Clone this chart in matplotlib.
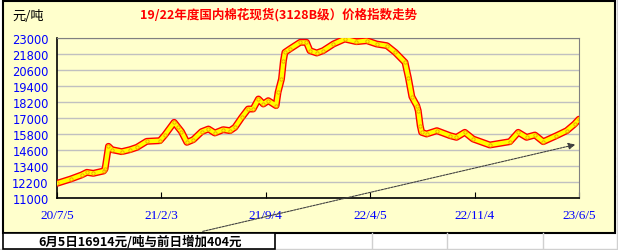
import matplotlib
matplotlib.use('Agg')
import matplotlib.pyplot as plt
from matplotlib.patches import Rectangle, FancyArrowPatch
from matplotlib.lines import Line2D
import pandas as pd

# 3128B cotton spot index, yuan/ton
dates = ['2020-07-05', '2020-08-02', '2020-08-24', '2020-09-04', '2020-09-17', '2020-10-08',
         '2020-10-11', '2020-10-18', '2020-10-25', '2020-11-14', '2020-12-01', '2020-12-15',
         '2021-01-04', '2021-01-31', '2021-02-10', '2021-03-01', '2021-03-09', '2021-03-16',
         '2021-03-27', '2021-04-09', '2021-04-26', '2021-05-10', '2021-05-23', '2021-06-09',
         '2021-06-23', '2021-07-03', '2021-07-17', '2021-07-30', '2021-08-09', '2021-08-20',
         '2021-08-30', '2021-09-09', '2021-09-25', '2021-09-29', '2021-10-06', '2021-10-10',
         '2021-10-13', '2021-10-23', '2021-11-13', '2021-11-26', '2021-12-03', '2021-12-17',
         '2021-12-30', '2022-01-20', '2022-02-12', '2022-03-08', '2022-03-29', '2022-04-18',
         '2022-05-09', '2022-05-26', '2022-06-15', '2022-06-22', '2022-06-29', '2022-07-09',
         '2022-07-12', '2022-07-16', '2022-07-19', '2022-07-29', '2022-08-19', '2022-09-15',
         '2022-09-28', '2022-10-15', '2022-11-01', '2022-12-05', '2023-01-15', '2023-02-01',
         '2023-02-18', '2023-03-07', '2023-03-24', '2023-04-20', '2023-05-11', '2023-05-27',
         '2023-06-05']
prices = [12100, 12425, 12725, 12925, 12850, 13025,
          13175, 14875, 14625, 14475, 14625, 14800,
          15250, 15300, 15725, 16675, 16300, 15975,
          15175, 15375, 15975, 16175, 15875, 16125,
          16050, 16300, 17050, 17675, 17675, 18425,
          18050, 18300, 17925, 18925, 19925, 21300,
          21925, 22175, 22675, 22675, 22050, 21875,
          22050, 22550, 22925, 22725, 22800, 22550,
          22425, 21925, 21175, 20000, 18600, 17925,
          17550, 16425, 15925, 15800, 16050, 15675,
          15550, 15925, 15425, 14975, 15225, 15925,
          15550, 15725, 15225, 15675, 16050, 16550,
          16914]
tick_dates = ['2020-07-05', '2021-02-03', '2021-09-04', '2022-04-05', '2022-11-04', '2023-06-05']
tick_labels = ['20/7/5', '21/2/3', '21/9/4', '22/4/5', '22/11/4', '23/6/5']
yticks = [11000, 12200, 13400, 14600, 15800, 17000, 18200, 19400, 20600, 21800, 23000]

title = '19/22年度国内棉花现货(3128B级）价格指数走势'
note = '6月5日16914元/吨与前日增加404元'

W, H = 618, 251
cjk = ['Noto Sans CJK SC', 'DejaVu Sans']

fig = plt.figure(figsize=(W / 100, H / 100), dpi=100)
fig.patch.set_facecolor('white')

def px(x, y):
    return x / W, 1 - y / H

# excel sheet gridlines outside the chart
for gx in [372, 447, 543]:
    fig.add_artist(Line2D([gx / W] * 2, [0, 1 - 234 / H], color='#d0d0d0', lw=1))
fig.add_artist(Line2D([0, 1], [1 - 249.5 / H] * 2, color='#d0d0d0', lw=1))
fig.add_artist(Line2D([616.5 / W] * 2, [0, 1], color='#d0d0d0', lw=1))
for gy in range(15, 240, 18):
    fig.add_artist(Line2D([616.5 / W, 1], [1 - gy / H] * 2, color='#d0d0d0', lw=1))

# chart area
fig.add_artist(Rectangle(px(3, 234), 612 / W, 232.5 / H, facecolor='#ffffcc',
                         edgecolor='black', lw=1.5, zorder=0))

ax = fig.add_axes([57 / W, 1 - 199 / H, 522 / W, 160 / H])
ax.set_facecolor('#ffffcc')
x = pd.to_datetime(dates)
ax.plot(x, prices, color='#ff0000', lw=5, solid_capstyle='round', zorder=3)
ax.plot(x, prices, color='#ffff00', lw=3, solid_capstyle='round', zorder=4)
ax.plot(x, prices, ls='none', marker='o', ms=2.4, mfc='none', mec='#f0a000', mew=0.6, zorder=5)

ax.set_xlim(pd.Timestamp(tick_dates[0]), pd.Timestamp(tick_dates[-1]))
ax.set_ylim(11000, 23000)
ax.set_yticks(yticks)
ax.set_xticks(pd.to_datetime(tick_dates))
ax.set_xticklabels(tick_labels, family='Liberation Serif', fontsize=9.5, color='#0000ff')
ax.set_yticklabels([str(v) for v in yticks], family='DejaVu Sans', fontsize=8.3, color='#0000ff')
ax.tick_params(axis='y', length=0, pad=6)
ax.tick_params(axis='x', direction='in', length=4, pad=8)
ax.grid(axis='y', color='#c0c0c0', lw=1)
ax.set_axisbelow(True)
for s in ['top', 'right']:
    ax.spines[s].set_color('#808080')
for s in ['left', 'bottom']:
    ax.spines[s].set_color('black')
    ax.spines[s].set_linewidth(1.2)

fig.text(*px(279, 15), title, family=cjk, fontsize=9, fontweight='bold', color='#ff0000',
         ha='center', va='center')
fig.text(*px(12, 17), '元/吨', family=cjk, fontsize=9.5, color='black', ha='left', va='center')

# note box at the bottom
fig.add_artist(Rectangle(px(3, 250), 272 / W, 16 / H, facecolor='white',
                         edgecolor='black', lw=1.2, zorder=2))
fig.text(*px(140, 242), note, family=cjk, fontsize=9, fontweight='bold', color='black',
         ha='center', va='center', zorder=3)

# trend arrow
fig.add_artist(FancyArrowPatch(px(200, 233), px(578, 145),
               transform=fig.transFigure, arrowstyle='-|>,head_length=4,head_width=2',
               color='#404040', lw=0.8, ls=(0, (2, 1)), zorder=6))

fig.savefig('out.png', dpi=100)
